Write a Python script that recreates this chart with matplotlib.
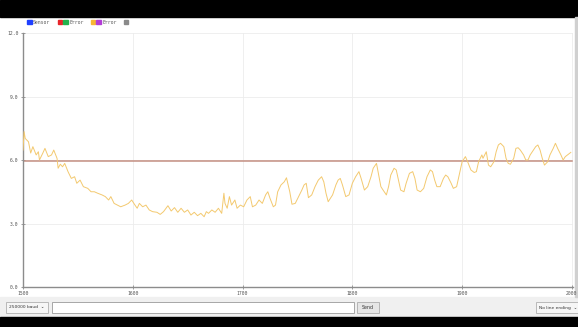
import matplotlib
matplotlib.use("Agg")
import matplotlib.pyplot as plt
from matplotlib.patches import Rectangle

# ---- data ----
sample_idx = [1500, 1501, 1502, 1505, 1507, 1509, 1512, 1514, 1515, 1518, 1520, 1523, 1526, 1528,
              1531, 1532, 1534, 1536, 1538, 1541, 1544, 1547, 1549, 1552, 1555, 1559, 1562, 1565,
              1568, 1572, 1575, 1578, 1580, 1583, 1586, 1589, 1593, 1596, 1599, 1602, 1604, 1606,
              1609, 1612, 1615, 1618, 1622, 1625, 1628, 1632, 1635, 1638, 1641, 1644, 1647, 1650,
              1653, 1656, 1659, 1662, 1665, 1667, 1669, 1672, 1675, 1678, 1681, 1683, 1684, 1686,
              1688, 1690, 1693, 1695, 1698, 1701, 1704, 1707, 1709, 1712, 1715, 1718, 1721, 1723,
              1725, 1728, 1730, 1732, 1735, 1738, 1740, 1743, 1745, 1748, 1751, 1754, 1756, 1758,
              1760, 1763, 1766, 1769, 1772, 1774, 1776, 1778, 1782, 1785, 1787, 1789, 1791, 1794,
              1797, 1800, 1803, 1806, 1808, 1811, 1814, 1817, 1819, 1822, 1824, 1826, 1828, 1831,
              1833, 1835, 1838, 1840, 1842, 1844, 1847, 1849, 1852, 1855, 1857, 1859, 1862, 1865,
              1868, 1871, 1873, 1875, 1877, 1880, 1883, 1885, 1887, 1890, 1892, 1895, 1898, 1900,
              1903, 1905, 1908, 1911, 1913, 1915, 1918, 1919, 1922, 1924, 1926, 1929, 1931, 1933,
              1935, 1938, 1940, 1942, 1944, 1947, 1949, 1951, 1953, 1956, 1958, 1960, 1962, 1965,
              1967, 1969, 1971, 1973, 1975, 1978, 1980, 1983, 1985, 1987, 1990, 1992, 1994, 1996,
              1999]
sensor = [6.47, 7.34, 7.02, 6.86, 6.33, 6.63, 6.24, 6.39, 6.00, 6.32, 6.55, 6.16, 6.24, 6.47,
          6.08, 5.61, 5.80, 5.68, 5.84, 5.45, 5.13, 5.21, 4.90, 5.05, 4.74, 4.66, 4.50, 4.50,
          4.43, 4.35, 4.27, 4.11, 4.27, 3.95, 3.87, 3.79, 3.87, 3.95, 4.11, 3.87, 3.72, 3.95,
          3.79, 3.87, 3.64, 3.56, 3.53, 3.43, 3.56, 3.84, 3.59, 3.75, 3.53, 3.72, 3.53, 3.64,
          3.40, 3.53, 3.37, 3.48, 3.32, 3.56, 3.48, 3.64, 3.53, 3.72, 3.48, 4.43, 3.95, 3.72,
          4.27, 3.87, 4.11, 3.72, 3.87, 3.79, 4.11, 4.27, 3.79, 3.87, 4.11, 3.95, 4.35, 4.50,
          4.19, 3.79, 3.87, 4.50, 4.82, 4.97, 5.16, 4.50, 3.91, 3.95, 4.27, 4.58, 4.82, 4.90,
          4.22, 4.35, 4.74, 5.05, 5.21, 4.97, 4.43, 4.03, 4.35, 4.82, 5.05, 5.13, 4.82, 4.27,
          4.35, 4.90, 5.21, 5.45, 5.13, 4.58, 4.74, 5.21, 5.61, 5.84, 5.29, 4.74, 4.58, 4.35,
          4.74, 5.29, 5.61, 5.53, 5.05, 4.58, 4.50, 4.90, 5.37, 5.45, 5.13, 4.58, 4.50, 4.66,
          5.21, 5.53, 5.45, 5.05, 4.74, 4.74, 5.13, 5.29, 5.21, 4.90, 4.66, 4.74, 5.45, 5.92,
          6.16, 5.92, 5.53, 5.41, 5.45, 5.92, 6.24, 6.08, 6.39, 5.76, 5.68, 5.92, 6.39, 6.71,
          6.79, 6.63, 6.08, 5.84, 5.80, 6.08, 6.55, 6.58, 6.47, 6.24, 6.00, 6.00, 6.24, 6.47,
          6.63, 6.71, 6.47, 6.08, 5.76, 5.92, 6.24, 6.55, 6.79, 6.55, 6.24, 6.00, 6.16, 6.24,
          6.36]
setpoint_x = [1500, 2000]
setpoint = [5.93, 5.93]
x_ticks = [1500, 1600, 1700, 1800, 1900, 2000]
y_ticks = [0.0, 3.0, 6.0, 9.0, 12.0]
legend_labels = ["Sensor", "Error", "Error", ""]
legend_colors = [["#1f3fff"], ["#e8242a", "#22b24c"], ["#f7b733", "#b23cd6"], ["#8a8a8a"]]

W, H = 578, 327
fig = plt.figure(figsize=(W / 100, H / 100), dpi=100)
fig.patch.set_facecolor("white")

# chrome overlay (pixel coordinates)
ui = fig.add_axes([0, 0, 1, 1], zorder=0)
ui.set_xlim(0, W)
ui.set_ylim(H, 0)
ui.axis("off")
ui.add_patch(Rectangle((0, 0), W, 17, color="black"))
ui.add_patch(Rectangle((0, 297), W, 20, color="#f0f0f0"))
ui.add_patch(Rectangle((0, 317), W, 10, color="black"))
ui.add_patch(Rectangle((575, 17), 3, 280, color="#d0d0d0"))
# toolbar widgets
ui.add_patch(Rectangle((6, 302), 42, 11, facecolor="#f6f6f6", edgecolor="#b0b0b0", lw=0.6))
ui.text(9, 307.5, "250000 baud  \u2304", fontsize=3.2, va="center", ha="left", color="#333333")
ui.add_patch(Rectangle((52, 302), 302, 11, facecolor="white", edgecolor="#9a9a9a", lw=0.6))
ui.add_patch(Rectangle((357, 302), 22, 11, facecolor="#e6e6e6", edgecolor="#adadad", lw=0.6))
ui.text(368, 307.5, "Send", fontsize=3.4, va="center", ha="center", color="#333333")
ui.add_patch(Rectangle((536, 302), 45, 11, facecolor="#f6f6f6", edgecolor="#b0b0b0", lw=0.6))
ui.text(539, 307.5, "No line ending  \u2304", fontsize=3.2, va="center", ha="left", color="#333333")

# legend
lx = 27
for lab, cols in zip(legend_labels, legend_colors):
    for c in cols:
        ui.add_patch(Rectangle((lx, 19.5), 4.5, 4.5, color=c))
        lx += 5.5
    if lab:
        t = ui.text(lx + 0.5, 22, lab, fontsize=3.4, va="center", ha="left",
                    color="#555555", family="DejaVu Sans Mono")
        lx += 6 + 3.2 * len(lab)

# plot area
ax = fig.add_axes([23 / W, (H - 287) / H, 550 / W, 254 / H], zorder=1)
ax.patch.set_alpha(0)
ax.plot(setpoint_x, setpoint, color="#c48f82", lw=1.1, zorder=2)
ax.plot(sample_idx, sensor, color="#f3c96f", lw=0.7, zorder=3)
ax.set_xlim(1500, 2001)
ax.set_ylim(0, 12)
ax.set_xticks(x_ticks)
ax.set_yticks(y_ticks)
ax.set_xticklabels([str(v) for v in x_ticks])
ax.set_yticklabels([f"{v:.1f}" for v in y_ticks])
ax.grid(True, color="#ececec", lw=0.6)
for s in ["top", "right"]:
    ax.spines[s].set_visible(False)
for s in ["left", "bottom"]:
    ax.spines[s].set_color("#8c8c8c")
    ax.spines[s].set_linewidth(1.0)
ax.tick_params(axis="both", labelsize=3.4, colors="#8c8c8c", labelcolor="#555555",
               length=3, width=0.6, direction="inout", pad=1.5)
for lbl in ax.get_xticklabels() + ax.get_yticklabels():
    lbl.set_family("DejaVu Sans Mono")

fig.savefig("out.png", dpi=100)
